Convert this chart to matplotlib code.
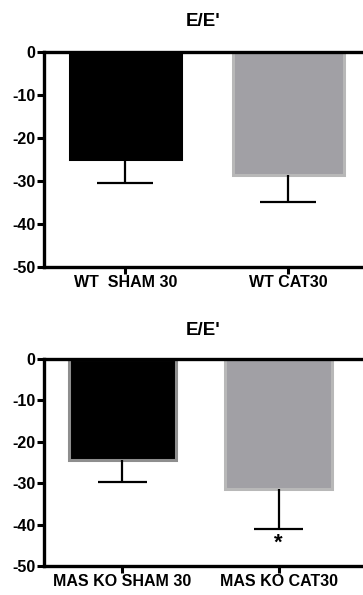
import matplotlib
matplotlib.use("Agg")
import matplotlib.pyplot as plt

plt.rcParams['font.family'] = ['Liberation Sans', 'DejaVu Sans']
plt.rcParams['font.weight'] = 'bold'

# data
title = "E/E'"
top_labels = ['WT  SHAM 30', 'WT CAT30']
top_means = [-25.0, -28.7]
top_errs = [5.5, 6.3]

bottom_labels = ['MAS KO SHAM 30', 'MAS KO CAT30']
bottom_means = [-24.5, -31.3]
bottom_errs = [5.2, 9.7]

yticks = [0, -10, -20, -30, -40, -50]

face_colors = ['#000000', '#a1a0a5']
top_edges = ['#000000', '#b8b8b8']
bottom_edges = ['#8e8e8e', '#b8b8b8']


def draw_panel(ax, labels, means, errs, edges, xlim, width, cap, pad, star=None):
    x = list(range(len(labels)))
    ax.bar(x, means, width=width, color=face_colors, edgecolor=edges,
           linewidth=2.2, zorder=2)
    # one sided error bars going down, cap only at the far end
    lows = [m - e for m, e in zip(means, errs)]
    ax.vlines(x, lows, means, color='black', linewidth=1.6, zorder=3)
    ax.hlines(lows, [i - cap / 2 for i in x], [i + cap / 2 for i in x],
              color='black', linewidth=1.6, zorder=3)
    ax.set_xlim(xlim)
    ax.set_ylim(-50, 0)
    ax.set_yticks(yticks)
    ax.set_yticklabels([str(t) for t in yticks])
    ax.set_xticks(x)
    ax.set_xticklabels(labels, fontsize=11.5, fontweight='bold')
    for s in ['left', 'top', 'bottom']:
        ax.spines[s].set_linewidth(2.4)
        ax.spines[s].set_zorder(4)
    ax.spines['right'].set_visible(False)
    ax.tick_params(axis='both', width=2.2, length=5, labelsize=11.5, pad=1)
    ax.set_title(title, fontsize=13.5, fontweight='bold', pad=pad)
    if star is not None:
        i, y = star
        ax.text(i, y, '*', ha='center', va='center', fontsize=16,
                fontweight='bold')


fig = plt.figure(figsize=(3.63, 5.95), dpi=100)
ax1 = fig.add_axes([0.121, 0.5513, 0.879, 0.3613])
ax2 = fig.add_axes([0.121, 0.0487, 0.879, 0.348])

draw_panel(ax1, top_labels, top_means, top_errs, top_edges,
           (-0.50, 1.46), 0.683, 0.345, 19)
draw_panel(ax2, bottom_labels, bottom_means, bottom_errs, bottom_edges,
           (-0.503, 1.54), 0.686, 0.31, 17, star=(1, -44.5))

fig.savefig('out.png', dpi=100)
